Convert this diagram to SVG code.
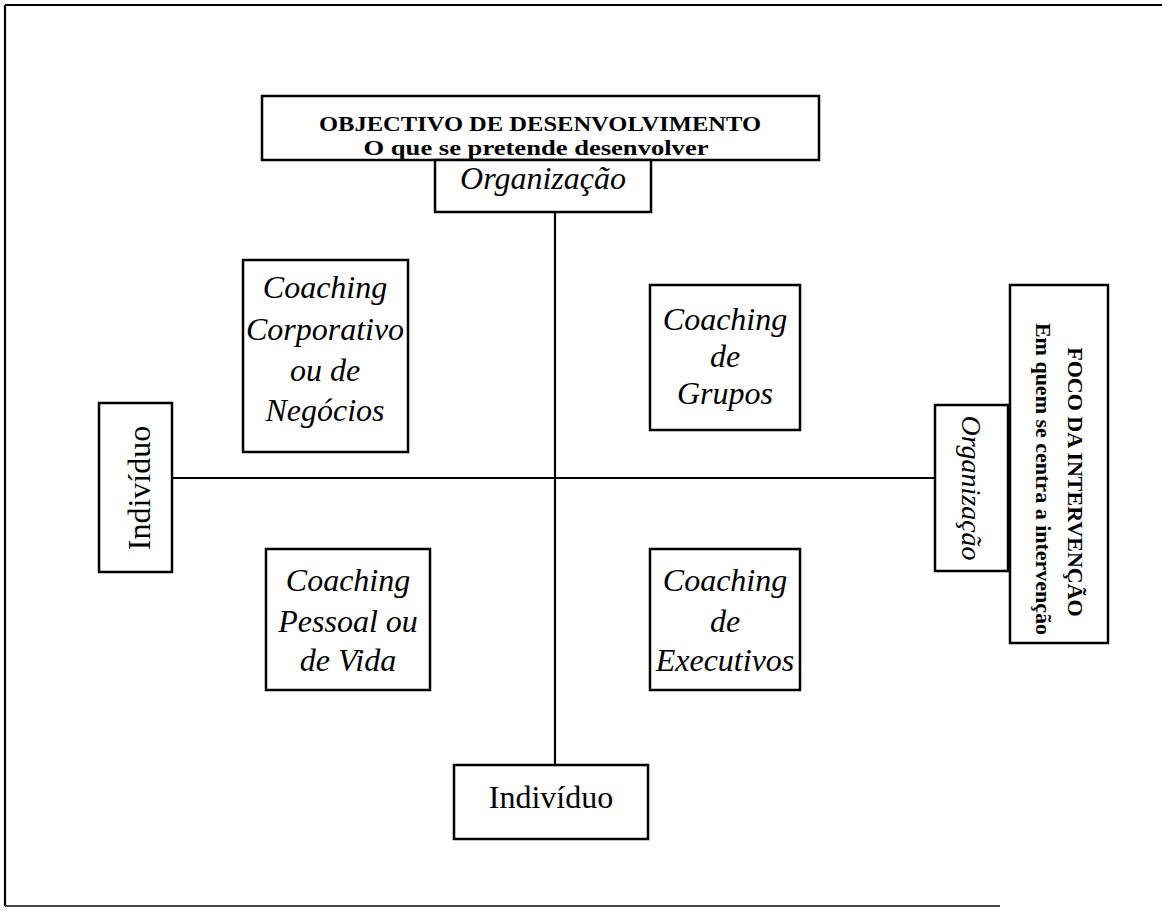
<svg xmlns="http://www.w3.org/2000/svg" width="1162" height="915" viewBox="0 0 1162 915">
<style>
.box{fill:#fff;stroke:#000;stroke-width:2.5}
.ln{stroke:#000;stroke-width:2.2;fill:none}
.it{font-family:"Liberation Serif","Times New Roman",serif;font-style:italic;font-size:32px;fill:#000;text-anchor:middle}
.rg{font-family:"Liberation Serif","Times New Roman",serif;font-size:32px;fill:#000;text-anchor:middle}
.bd{font-family:"Liberation Serif","Times New Roman",serif;font-weight:bold;font-size:24px;fill:#000;text-anchor:middle}
</style>
<rect width="1162" height="915" fill="#fff"/>
<g id="frame">
<line class="ln" x1="5" y1="5" x2="1162" y2="5"/>
<line class="ln" x1="5" y1="5" x2="5" y2="906"/>
<line x1="5" y1="906" x2="1000" y2="906" stroke="#444" stroke-width="1.8"/>
</g>
<g id="connectors">
<line class="ln" x1="555" y1="212" x2="555" y2="765"/>
<line class="ln" x1="172" y1="478" x2="935" y2="478"/>
</g>
<g id="objectivo">
<rect class="box" x="262" y="96" width="557" height="64" stroke-width="3"/>
<text class="bd" x="540" y="131" style="font-size:21px" textLength="442" lengthAdjust="spacingAndGlyphs">OBJECTIVO DE DESENVOLVIMENTO</text>
<text class="bd" x="536" y="155" style="font-size:21px" textLength="345" lengthAdjust="spacingAndGlyphs">O que se pretende desenvolver</text>
</g>
<g id="org-top">
<rect class="box" x="435" y="160" width="216" height="52"/>
<text class="it" x="543" y="189">Organização</text>
</g>
<g id="ind-left">
<rect class="box" x="99" y="403" width="73" height="169"/>
<text class="rg" transform="translate(150,488) rotate(-90)">Indivíduo</text>
</g>
<g id="ind-bottom">
<rect class="box" x="454" y="765" width="194" height="74"/>
<text class="rg" x="551" y="808">Indivíduo</text>
</g>
<g id="org-right">
<rect class="box" x="935" y="405" width="73" height="166"/>
<text class="it" transform="translate(962,488) rotate(90)" style="font-size:28px">Organização</text>
</g>
<g id="foco">
<rect class="box" x="1010" y="285" width="98" height="358"/>
<text class="bd" transform="translate(1068,482) rotate(90)" style="font-size:22px">FOCO DA INTERVENÇÃO</text>
<text class="bd" transform="translate(1036,479) rotate(90)" style="font-size:22px">Em quem se centra a intervenção</text>
</g>
<g id="corporativo">
<rect class="box" x="243" y="260" width="165" height="192"/>
<text class="it" x="325" y="298">Coaching</text>
<text class="it" x="325" y="340">Corporativo</text>
<text class="it" x="325" y="381">ou de</text>
<text class="it" x="325" y="421">Negócios</text>
</g>
<g id="grupos">
<rect class="box" x="650" y="285" width="150" height="145"/>
<text class="it" x="725" y="330">Coaching</text>
<text class="it" x="725" y="367">de</text>
<text class="it" x="725" y="404">Grupos</text>
</g>
<g id="pessoal">
<rect class="box" x="266" y="549" width="164" height="141"/>
<text class="it" x="348" y="591">Coaching</text>
<text class="it" x="348" y="632">Pessoal ou</text>
<text class="it" x="348" y="671">de Vida</text>
</g>
<g id="executivos">
<rect class="box" x="650" y="549" width="150" height="141"/>
<text class="it" x="725" y="591">Coaching</text>
<text class="it" x="725" y="632">de</text>
<text class="it" x="725" y="671">Executivos</text>
</g>
</svg>
